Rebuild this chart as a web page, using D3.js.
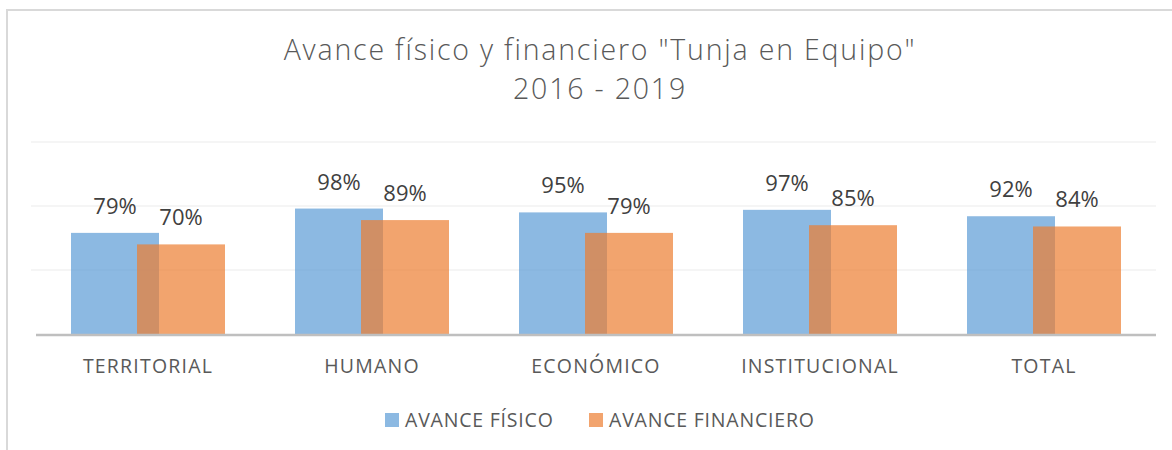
<!DOCTYPE html>
<html>
<head>
<meta charset="utf-8">
<script src="https://cdn.jsdelivr.net/npm/d3@7"></script>
<style>
  body { margin: 0; background: #fff; }
  text { font-family: "Open Sans", sans-serif; fill: #595959; }
</style>
</head>
<body>
<div id="chart"></div>
<script>
const width = 1172
const height = 450

const categories = ["TERRITORIAL", "HUMANO", "ECONÓMICO", "INSTITUCIONAL", "TOTAL"]
const fisico = [0.79, 0.98, 0.95, 0.97, 0.92]
const financiero = [0.70, 0.89, 0.79, 0.85, 0.84]
const seriesNames = ["AVANCE FÍSICO", "AVANCE FINANCIERO"]
const gridTicks = [0.5, 1.0, 1.5]

const colors = ["#5B9BD5", "#ED7D31"]

const svg = d3.select("div#chart").append("svg").attr("width", width).attr("height", height)

// chart border
svg.append("rect")
    .attr("x", 7).attr("y", 10)
    .attr("width", width + 10).attr("height", height + 10)
    .attr("fill", "none").attr("stroke", "#D9D9D9").attr("stroke-width", 2)

const x = d3.scaleBand().domain(categories).range([36, 1156])
const y = d3.scaleLinear().domain([0, 1.5]).range([334, 142])

// gridlines
svg.append("g").selectAll("line").data(gridTicks).enter().append("line")
    .attr("x1", 31).attr("x2", 1156)
    .attr("y1", d => y(d)).attr("y2", d => y(d))
    .attr("stroke", "#F2F2F2").attr("stroke-width", 1.5)

// title
const title = svg.append("text")
    .attr("text-anchor", "middle")
    .style("font-weight", 300)
    .style("font-size", "28.5px")
    .style("letter-spacing", "1.8px")
title.append("tspan").attr("x", 600).attr("y", 60).text('Avance físico y financiero "Tunja en Equipo"')
title.append("tspan").attr("x", 600).attr("y", 99).text("2016 - 2019")

const barW = 88
const offset = 66

const rows = categories.map((c, i) => ({ cat: c, vals: [fisico[i], financiero[i]] }))

const groups = svg.append("g").selectAll("g").data(rows).enter().append("g")
    .attr("transform", d => `translate(${x(d.cat) + x.bandwidth() / 2}, 0)`)

const halfSpan = (barW + offset) / 2

groups.each(function (d) {
    const g = d3.select(this)
    d.vals.forEach((v, s) => {
        const left = -halfSpan + s * offset
        g.append("rect")
            .attr("x", left)
            .attr("y", y(v))
            .attr("width", barW)
            .attr("height", y(0) - y(v))
            .attr("fill", colors[s])
            .attr("fill-opacity", 0.7)
        g.append("text")
            .attr("x", left + barW / 2)
            .attr("y", y(v) - 19)
            .attr("text-anchor", "middle")
            .style("font-size", "22px")
            .style("fill", "#404040")
            .text(Math.round(v * 100) + "%")
    })
})

// baseline
svg.append("line")
    .attr("x1", 36).attr("x2", 1156)
    .attr("y1", y(0) + 1).attr("y2", y(0) + 1)
    .attr("stroke", "#BFBFBF").attr("stroke-width", 2.5)

// category labels
svg.append("g").selectAll("text").data(categories).enter().append("text")
    .attr("x", d => x(d) + x.bandwidth() / 2)
    .attr("y", 373)
    .attr("text-anchor", "middle")
    .style("font-size", "19.5px")
    .style("letter-spacing", "1.2px")
    .text(d => d)

// legend
const legendX = [385, 589]
const legend = svg.append("g").selectAll("g").data(seriesNames).enter().append("g")
    .attr("transform", (d, i) => `translate(${legendX[i]}, 413)`)
legend.append("rect")
    .attr("width", 14).attr("height", 14)
    .attr("fill", (d, i) => colors[i]).attr("fill-opacity", 0.7)
legend.append("text")
    .attr("x", 20).attr("y", 14)
    .style("font-size", "19.5px")
    .style("letter-spacing", "0.8px")
    .text(d => d)
</script>
</body>
</html>
